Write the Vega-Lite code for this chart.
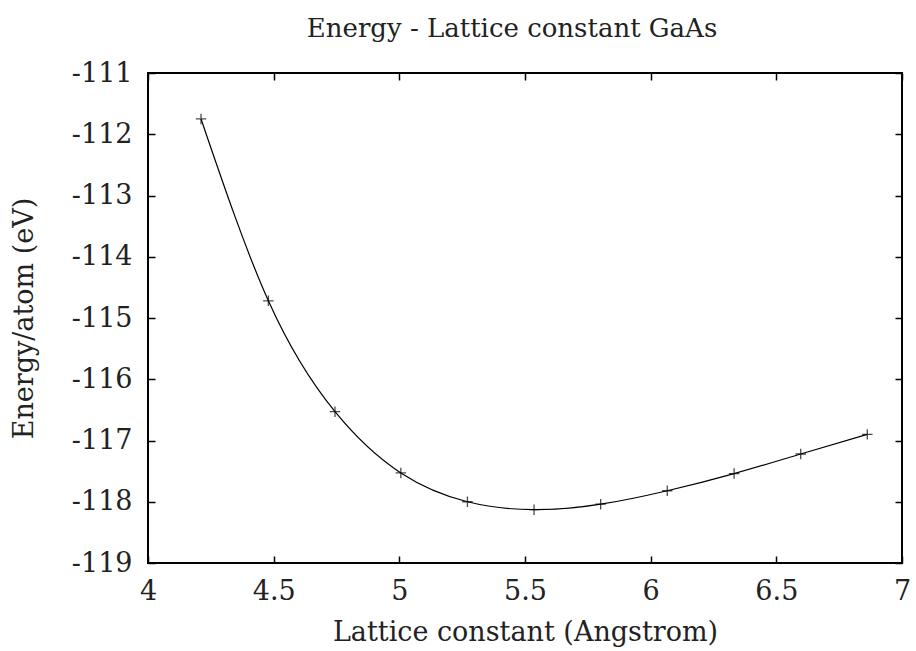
{
  "$schema": "https://vega.github.io/schema/vega-lite/v6.json",
  "width": 754,
  "height": 490,
  "autosize": "none",
  "padding": {"left": 148, "top": 73, "right": 14, "bottom": 88},
  "background": "white",
  "title": {"text": "Energy - Lattice constant GaAs", "font": "DejaVu Serif", "fontSize": 26, "fontWeight": "normal", "color": "#222222", "offset": 17, "dx": -13, "anchor": "middle"},
  "config": {
    "view": {"stroke": "black", "strokeWidth": 2},
    "axis": {
      "tickColor": "black", "tickSize": -7, "tickWidth": 1.5, "domain": false, "grid": false
    }
  },
  "data": {"values": [
    {"a": 4.211, "e": -111.75},
    {"a": 4.479, "e": -114.72},
    {"a": 4.744, "e": -116.53},
    {"a": 5.006, "e": -117.53},
    {"a": 5.271, "e": -118.00},
    {"a": 5.536, "e": -118.13},
    {"a": 5.801, "e": -118.04},
    {"a": 6.066, "e": -117.82},
    {"a": 6.332, "e": -117.54},
    {"a": 6.597, "e": -117.22},
    {"a": 6.862, "e": -116.90}
  ]},
  "layer": [
    {
      "mark": {"type": "line", "interpolate": "natural", "color": "black", "strokeWidth": 1.2},
      "encoding": {
        "x": {"field": "a", "type": "quantitative", "scale": {"domain": [4, 7], "nice": false, "zero": false},
              "axis": {"title": "Lattice constant (Angstrom)", "values": [4, 4.5, 5, 5.5, 6, 6.5, 7], "format": "~g", "labelPadding": 22, "titlePadding": 15, "labelFlush": false,
                       "labelFont": "DejaVu Serif", "labelFontSize": 27, "labelColor": "#222222",
                       "titleFont": "DejaVu Serif", "titleFontSize": 27, "titleFontWeight": "normal", "titleColor": "#222222"}},
        "y": {"field": "e", "type": "quantitative", "scale": {"domain": [-119, -111], "nice": false, "zero": false},
              "axis": {"title": "Energy/atom (eV)", "values": [-119, -118, -117, -116, -115, -114, -113, -112, -111], "labelExpr": "replace(datum.label, '\u2212', '-')", "labelPadding": 23, "titlePadding": 33, "format": "d",
                       "labelFont": "DejaVu Serif", "labelFontSize": 27, "labelColor": "#222222",
                       "titleFont": "DejaVu Serif", "titleFontSize": 27, "titleFontWeight": "normal", "titleColor": "#222222"}}
      }
    },
    {
      "mark": {"type": "point", "shape": "M-1,0L1,0M0,-1L0,1", "color": "black", "strokeWidth": 1.3, "size": 110, "filled": false},
      "encoding": {
        "x": {"field": "a", "type": "quantitative", "scale": {"domain": [4, 7], "nice": false, "zero": false},
              "axis": {"orient": "top", "labels": false, "title": null, "values": [4, 4.5, 5, 5.5, 6, 6.5, 7]}},
        "y": {"field": "e", "type": "quantitative", "scale": {"domain": [-119, -111], "nice": false, "zero": false},
              "axis": {"orient": "right", "labels": false, "title": null, "values": [-119, -118, -117, -116, -115, -114, -113, -112, -111]}}
      }
    }
  ],
  "resolve": {"axis": {"x": "independent", "y": "independent"}}
}
